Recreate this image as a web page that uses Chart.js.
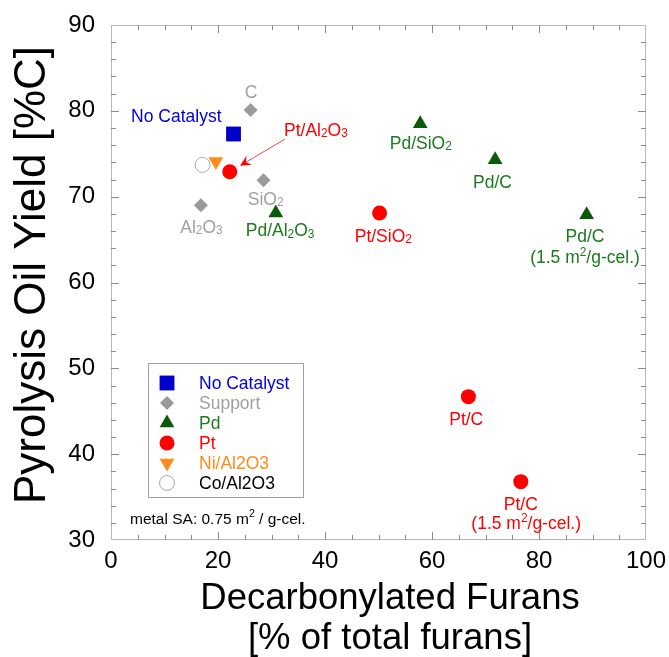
<!DOCTYPE html>
<html>
<head>
<meta charset="utf-8">
<script src="https://cdn.jsdelivr.net/npm/chart.js@4.4.1/dist/chart.umd.min.js"></script>
<style>
  html, body { margin: 0; padding: 0; background: #fff; }
  #wrap { width: 669px; height: 657px; }
</style>
</head>
<body>
<div id="wrap"><canvas id="chart" width="669" height="657"></canvas></div>
<script>
// values
const groupNames = ['No Catalyst', 'Support', 'Pd', 'Pt', 'Ni/Al2O3', 'Co/Al2O3'];
const noCatX = [22.9];
const noCatY = [77.3];
const supportX = [26.1, 28.5, 16.8];      // C, SiO2, Al2O3
const supportY = [80.1, 71.9, 69.0];
const pdX = [30.8, 57.8, 71.8, 88.9];     // Pd/Al2O3, Pd/SiO2, Pd/C, Pd/C (1.5)
const pdY = [68.1, 78.5, 74.3, 67.9];
const ptX = [22.2, 50.2, 66.8, 76.6];     // Pt/Al2O3, Pt/SiO2, Pt/C, Pt/C (1.5)
const ptY = [72.9, 68.1, 46.7, 36.8];
const niX = [19.6];
const niY = [74.1];
const coX = [17.1];
const coY = [73.7];

const xTickValues = [0, 20, 40, 60, 80, 100];
const yTickValues = [30, 40, 50, 60, 70, 80, 90];

// point labels ( _x = subscript, ^x = superscript ), placed in data units
const labelText = ['C', 'No Catalyst', 'Pt/Al_2O_3', 'SiO_2', 'Al_2O_3', 'Pd/Al_2O_3', 'Pd/SiO_2',
  'Pd/C', 'Pt/SiO_2', 'Pd/C', '(1.5 m^2/g-cel.)', 'Pt/C', 'Pt/C', '(1.5 m^2/g-cel.)'];
const labelGroup = [1, 0, 3, 1, 1, 2, 2, 2, 3, 2, 2, 3, 3, 3];
const labelX = [26.2, 12.2, 38.3, 28.9, 16.9, 31.6, 57.9, 71.3, 50.9, 88.6, 88.6, 66.4, 76.6, 77.6];
const labelY = [82.2, 79.4, 77.8, 69.8, 66.5, 66.1, 76.3, 71.8, 65.5, 65.5, 63.0, 44.1, 34.2, 32.0];

const FONT = "'Liberation Sans', Arial, Helvetica, sans-serif";
const markColor = ['#0000cc', '#9a9a9a', '#0a5a0a', '#ff0000', '#ff8c1a', '#ffffff'];
const textColor = ['#0000e0', '#a0a0a0', '#1b7a1b', '#ff0000', '#ff8c1a', '#000000'];
const markStyle = ['rect', 'rectRot', 'triangle', 'circle', 'triangle', 'circle'];
const markRot = [0, 0, 0, 0, 180, 0];
const markRadius = [10.5, 7, 8.5, 7.5, 8.5, 7.5];

function pts(xs, ys) {
    return xs.map((x, i) => ({ x: x, y: ys[i] }));
}

const seriesData = [pts(noCatX, noCatY), pts(supportX, supportY), pts(pdX, pdY),
    pts(ptX, ptY), pts(niX, niY), pts(coX, coY)];

function parseRich(str) {
    const segs = [];
    for (let i = 0; i < str.length; i++) {
        const c = str[i];
        if ((c === '_' || c === '^') && i + 1 < str.length) {
            segs.push({ t: str[i + 1], k: c });
            i++;
        } else if (segs.length && segs[segs.length - 1].k === '') {
            segs[segs.length - 1].t += c;
        } else {
            segs.push({ t: c, k: '' });
        }
    }
    return segs;
}

function drawRich(ctx, str, x, cy, size, color, align) {
    const segs = parseRich(str);
    let total = 0;
    segs.forEach(s => {
        s.size = s.k ? size * 0.68 : size;
        ctx.font = s.size + 'px ' + FONT;
        s.w = ctx.measureText(s.t).width;
        total += s.w;
    });
    let cx = align === 'left' ? x : x - total / 2;
    const base = cy + size * 0.36;
    ctx.fillStyle = color;
    ctx.textAlign = 'left';
    ctx.textBaseline = 'alphabetic';
    segs.forEach(s => {
        ctx.font = s.size + 'px ' + FONT;
        let by = base;
        if (s.k === '_') by += size * 0.08;
        if (s.k === '^') by -= size * 0.4;
        ctx.fillText(s.t, cx, by);
        cx += s.w;
    });
}

function drawSymbol(ctx, i, x, y) {
    const r = markRadius[i];
    ctx.beginPath();
    if (markStyle[i] === 'rect') {
        const h = r * Math.SQRT1_2;
        ctx.rect(x - h, y - h, 2 * h, 2 * h);
    } else if (markStyle[i] === 'rectRot') {
        ctx.moveTo(x, y - r);
        ctx.lineTo(x + r, y);
        ctx.lineTo(x, y + r);
        ctx.lineTo(x - r, y);
        ctx.closePath();
    } else if (markStyle[i] === 'triangle') {
        let a = markRot[i] * Math.PI / 180;
        for (let k = 0; k < 3; k++) {
            const px = x + Math.sin(a) * r, py = y - Math.cos(a) * r;
            if (k === 0) ctx.moveTo(px, py); else ctx.lineTo(px, py);
            a += 2 * Math.PI / 3;
        }
        ctx.closePath();
    } else {
        ctx.arc(x, y, r, 0, 2 * Math.PI);
    }
    ctx.fillStyle = markColor[i];
    ctx.fill();
    if (i === 5) {
        ctx.strokeStyle = '#a8a8a8';
        ctx.lineWidth = 1;
        ctx.stroke();
    }
}

// drop the label overhang padding so the plot box keeps its place
function noOverhang(s) {
    s.paddingTop = 0;
    s.paddingBottom = 0;
    s.paddingLeft = 0;
    s.paddingRight = 0;
}

const decorations = {
    id: 'decorations',
    beforeDatasetsDraw(chart) {
        const ctx = chart.ctx;
        const a = chart.chartArea;
        const xs = chart.scales.x, ys = chart.scales.y;
        ctx.save();
        // frame
        ctx.strokeStyle = '#b8b8b8';
        ctx.lineWidth = 1;
        ctx.strokeRect(a.left + 0.5, a.top + 0.5, a.right - a.left - 1, a.bottom - a.top - 1);
        // inward ticks on all four sides
        ctx.strokeStyle = '#8a8a8a';
        ctx.beginPath();
        for (let v = 5; v < 100; v += 5) {
            const px = Math.round(xs.getPixelForValue(v)) + 0.5;
            const len = v % 20 === 0 ? 8 : 5;
            ctx.moveTo(px, a.bottom); ctx.lineTo(px, a.bottom - len);
            ctx.moveTo(px, a.top); ctx.lineTo(px, a.top + len);
        }
        for (let v = 32; v < 90; v += 2) {
            const py = Math.round(ys.getPixelForValue(v)) + 0.5;
            const len = v % 10 === 0 ? 8 : 5;
            ctx.moveTo(a.left, py); ctx.lineTo(a.left + len, py);
            ctx.moveTo(a.right, py); ctx.lineTo(a.right - len, py);
        }
        ctx.stroke();
        ctx.restore();
    },
    afterDatasetsDraw(chart) {
        const ctx = chart.ctx;
        const xs = chart.scales.x, ys = chart.scales.y;
        ctx.save();

        // point labels
        labelText.forEach((t, i) => {
            drawRich(ctx, t, xs.getPixelForValue(labelX[i]), ys.getPixelForValue(labelY[i]),
                17.5, textColor[labelGroup[i]], 'center');
        });

        // arrow to Pt/Al2O3
        const x0 = xs.getPixelForValue(32.5), y0 = ys.getPixelForValue(76.7);
        const x1 = xs.getPixelForValue(24.1), y1 = ys.getPixelForValue(73.6);
        const ang = Math.atan2(y1 - y0, x1 - x0);
        ctx.strokeStyle = '#ff4040';
        ctx.lineWidth = 1;
        ctx.beginPath();
        ctx.moveTo(x0, y0);
        ctx.lineTo(x1 - Math.cos(ang) * 6, y1 - Math.sin(ang) * 6);
        ctx.stroke();
        ctx.fillStyle = '#ff0000';
        ctx.beginPath();
        ctx.moveTo(x1, y1);
        ctx.lineTo(x1 - Math.cos(ang - 0.45) * 12, y1 - Math.sin(ang - 0.45) * 12);
        ctx.lineTo(x1 - Math.cos(ang) * 7, y1 - Math.sin(ang) * 7);
        ctx.lineTo(x1 - Math.cos(ang + 0.45) * 12, y1 - Math.sin(ang + 0.45) * 12);
        ctx.closePath();
        ctx.fill();

        // legend box
        ctx.fillStyle = '#ffffff';
        ctx.fillRect(148, 363, 155, 134);
        ctx.strokeStyle = '#a0a0a0';
        ctx.lineWidth = 1;
        ctx.strokeRect(148.5, 363.5, 155, 134);
        groupNames.forEach((name, i) => {
            const cy = 383 + i * 20;
            drawSymbol(ctx, i, 167, cy);
            drawRich(ctx, name, 199, cy, 17.5, textColor[i], 'left');
        });

        // note
        drawRich(ctx, 'metal SA: 0.75 m^2 / g-cel.', 130, 518, 15.5, '#000000', 'left');

        // axis titles
        ctx.fillStyle = '#000';
        ctx.textAlign = 'center';
        ctx.textBaseline = 'middle';
        ctx.font = '44px ' + FONT;
        ctx.save();
        ctx.translate(33, 275);
        ctx.rotate(-Math.PI / 2);
        ctx.fillText('Pyrolysis Oil Yield [%C]', 0, 0);
        ctx.restore();
        ctx.font = '36.5px ' + FONT;
        ctx.fillText('Decarbonylated Furans', 390, 599);
        ctx.fillText('[% of total furans]', 390, 639);
        ctx.restore();
    }
};

const datasets = groupNames.map((name, i) => ({
    label: name,
    data: seriesData[i],
    pointStyle: markStyle[i],
    rotation: markRot[i],
    pointRadius: markRadius[i],
    backgroundColor: markColor[i],
    borderColor: i === 5 ? '#a8a8a8' : markColor[i],
    borderWidth: i === 5 ? 1 : 0,
    showLine: false
}));

new Chart(document.getElementById('chart').getContext('2d'), {
    type: 'scatter',
    data: { datasets: datasets },
    options: {
        responsive: false,
        animation: false,
        events: [],
        layout: { padding: { top: 25, right: 23, left: 0, bottom: 0 } },
        plugins: { legend: { display: false }, tooltip: { enabled: false } },
        scales: {
            x: {
                type: 'linear', min: 0, max: 100,
                afterBuildTicks: s => { s.ticks = xTickValues.map(v => ({ value: v })); },
                afterFit: s => { s.height = 117; noOverhang(s); },
                grid: { display: false, drawTicks: false },
                border: { display: false },
                ticks: { font: { size: 24, family: FONT }, color: '#000', padding: 7, maxRotation: 0 }
            },
            y: {
                type: 'linear', min: 30, max: 90,
                afterBuildTicks: s => { s.ticks = yTickValues.map(v => ({ value: v })); },
                afterFit: s => { s.width = 111; noOverhang(s); },
                grid: { display: false, drawTicks: false },
                border: { display: false },
                ticks: { font: { size: 24, family: FONT }, color: '#000', padding: 16 }
            }
        }
    },
    plugins: [decorations]
});
</script>
</body>
</html>
